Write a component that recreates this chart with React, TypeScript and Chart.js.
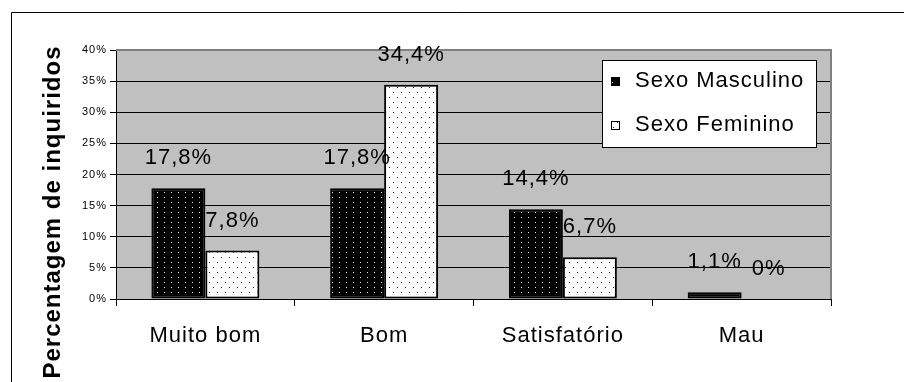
import React, { useEffect, useRef } from "react";
import { Chart, registerables } from "chart.js";

Chart.register(...registerables);

// Survey results by sex (percent of respondents)
const categories = ["Muito bom", "Bom", "Satisfatório", "Mau"];
const seriesNames = ["Sexo Masculino", "Sexo Feminino"];
const masculino = [17.8, 17.8, 14.4, 1.1];
const feminino = [7.8, 34.4, 6.7, 0];
const yMax = 40;
const yStep = 5;
const axisTitle = "Percentagem de inquiridos";

const FONT = '"Liberation Sans", Arial, sans-serif';

const fmtValue = (v: number) =>
  (Number.isInteger(v) ? String(v) : v.toFixed(1).replace(".", ",")) + "%";

// Small repeating tile used as a dotted bar fill
function makePattern(
  target: CanvasRenderingContext2D,
  bg: string,
  fg: string,
  w: number,
  h: number,
  dots: [number, number][]
) {
  const tile = document.createElement("canvas");
  tile.width = w;
  tile.height = h;
  const t = tile.getContext("2d")!;
  t.fillStyle = bg;
  t.fillRect(0, 0, w, h);
  t.fillStyle = fg;
  dots.forEach(([x, y]) => t.fillRect(x, y, 1, 1));
  return target.createPattern(tile, "repeat")!;
}

export default function App() {
  const canvasRef = useRef<HTMLCanvasElement | null>(null);

  useEffect(() => {
    document.body.style.margin = "0";
    const canvas = canvasRef.current!;
    const ctx = canvas.getContext("2d")!;

    const patMasc = makePattern(ctx, "#000", "#f0f0f0", 7, 5, [[3, 2]]);
    const patFem = makePattern(ctx, "#fff", "#202020", 8, 10, [
      [1, 2],
      [5, 7],
    ]);
    const fills = [patMasc, patFem];

    const decor = {
      id: "decor",
      beforeDraw(chart: any) {
        const { ctx: c, chartArea: a } = chart;
        (c as any).letterSpacing = "1px";
        c.save();
        c.fillStyle = "#fff";
        c.fillRect(0, 0, chart.width, chart.height);
        c.fillStyle = "#C0C0C0";
        c.fillRect(a.left, a.top, a.right - a.left, a.bottom - a.top);
        c.restore();
      },
      beforeDatasetsDraw(chart: any) {
        const { ctx: c, chartArea: a } = chart;
        c.save();
        c.strokeStyle = "#808080";
        c.lineWidth = 2;
        c.beginPath();
        c.moveTo(a.left, a.top);
        c.lineTo(a.right, a.top);
        c.lineTo(a.right, a.bottom);
        c.stroke();
        c.restore();
      },
      afterDatasetsDraw(chart: any) {
        const { ctx: c } = chart;
        c.save();
        c.font = `22px ${FONT}`;
        c.fillStyle = "#000";
        c.textAlign = "center";
        c.textBaseline = "middle";
        chart.data.datasets.forEach((ds: any, di: number) => {
          const meta = chart.getDatasetMeta(di);
          meta.data.forEach((bar: any, i: number) => {
            c.fillText(fmtValue(ds.data[i]), bar.x, bar.y - 30);
          });
        });
        c.restore();
      },
      afterDraw(chart: any) {
        const { ctx: c, chartArea: a } = chart;
        c.save();
        // outer frame (top and left edges)
        c.strokeStyle = "#000";
        c.lineWidth = 1;
        c.beginPath();
        c.moveTo(11.5, chart.height);
        c.lineTo(11.5, 12.5);
        c.lineTo(chart.width, 12.5);
        c.stroke();

        // legend
        const lx = a.right - 229;
        const ly = a.top + 10;
        const lw = 214;
        const lh = 87;
        c.fillStyle = "#fff";
        c.fillRect(lx, ly, lw, lh);
        c.strokeStyle = "#000";
        c.strokeRect(lx + 0.5, ly + 0.5, lw, lh);
        c.font = `22px ${FONT}`;
        c.textAlign = "left";
        c.textBaseline = "middle";
        seriesNames.forEach((name, i) => {
          const cy = ly + 21 + i * 44;
          c.fillStyle = fills[i];
          c.fillRect(lx + 9, cy - 4, 9, 9);
          c.strokeStyle = "#000";
          c.strokeRect(lx + 9.5, cy - 3.5, 8, 8);
          c.fillStyle = "#000";
          c.fillText(name, lx + 33, cy);
        });

        // y-axis title
        c.translate(53, 212);
        c.rotate(-Math.PI / 2);
        c.font = `bold 24px ${FONT}`;
        c.textAlign = "center";
        c.textBaseline = "middle";
        c.fillStyle = "#000";
        c.fillText(axisTitle, 0, 0);
        c.restore();
      },
    };

    const chart = new Chart(canvas, {
      type: "bar",
      data: {
        labels: categories,
        datasets: [
          {
            label: seriesNames[0],
            data: masculino,
            backgroundColor: patMasc as any,
            borderColor: "#000",
            borderWidth: 2,
            borderSkipped: false,
            categoryPercentage: 0.604,
            barPercentage: 1,
          },
          {
            label: seriesNames[1],
            data: feminino,
            backgroundColor: patFem as any,
            borderColor: "#000",
            borderWidth: 2,
            borderSkipped: false,
            categoryPercentage: 0.604,
            barPercentage: 1,
          },
        ],
      },
      options: {
        responsive: false,
        animation: false,
        events: [],
        layout: { padding: { top: 50, right: 73, left: 0, bottom: 0 } },
        plugins: {
          legend: { display: false },
          tooltip: { enabled: false },
        },
        scales: {
          y: {
            min: 0,
            max: yMax,
            ticks: {
              stepSize: yStep,
              callback: (v: any) => `${v}%`,
              font: { family: FONT, size: 11 },
              color: "#000",
              padding: 3,
            },
            grid: {
              color: (c: any) =>
                c.tick && (c.tick.value === 0 || c.tick.value === yMax)
                  ? "rgba(0,0,0,0)"
                  : "#000",
              tickColor: "#000",
              tickLength: 6,
              lineWidth: 1,
            },
            border: { display: true, color: "#000", width: 1 },
            afterFit: (s: any) => {
              s.width = 116;
            },
          },
          x: {
            ticks: {
              font: { family: FONT, size: 22 },
              color: "#000",
              padding: 17,
            },
            grid: {
              offset: true,
              drawOnChartArea: false,
              color: "#000",
              tickLength: 7,
            },
            border: { display: true, color: "#000", width: 1 },
            afterFit: (s: any) => {
              s.height = 83;
            },
          },
        },
      },
      plugins: [decor],
    });

    return () => chart.destroy();
  }, []);

  return (
    <div style={{ width: 904, height: 382 }}>
      <canvas ref={canvasRef} width={904} height={382} />
    </div>
  );
}
